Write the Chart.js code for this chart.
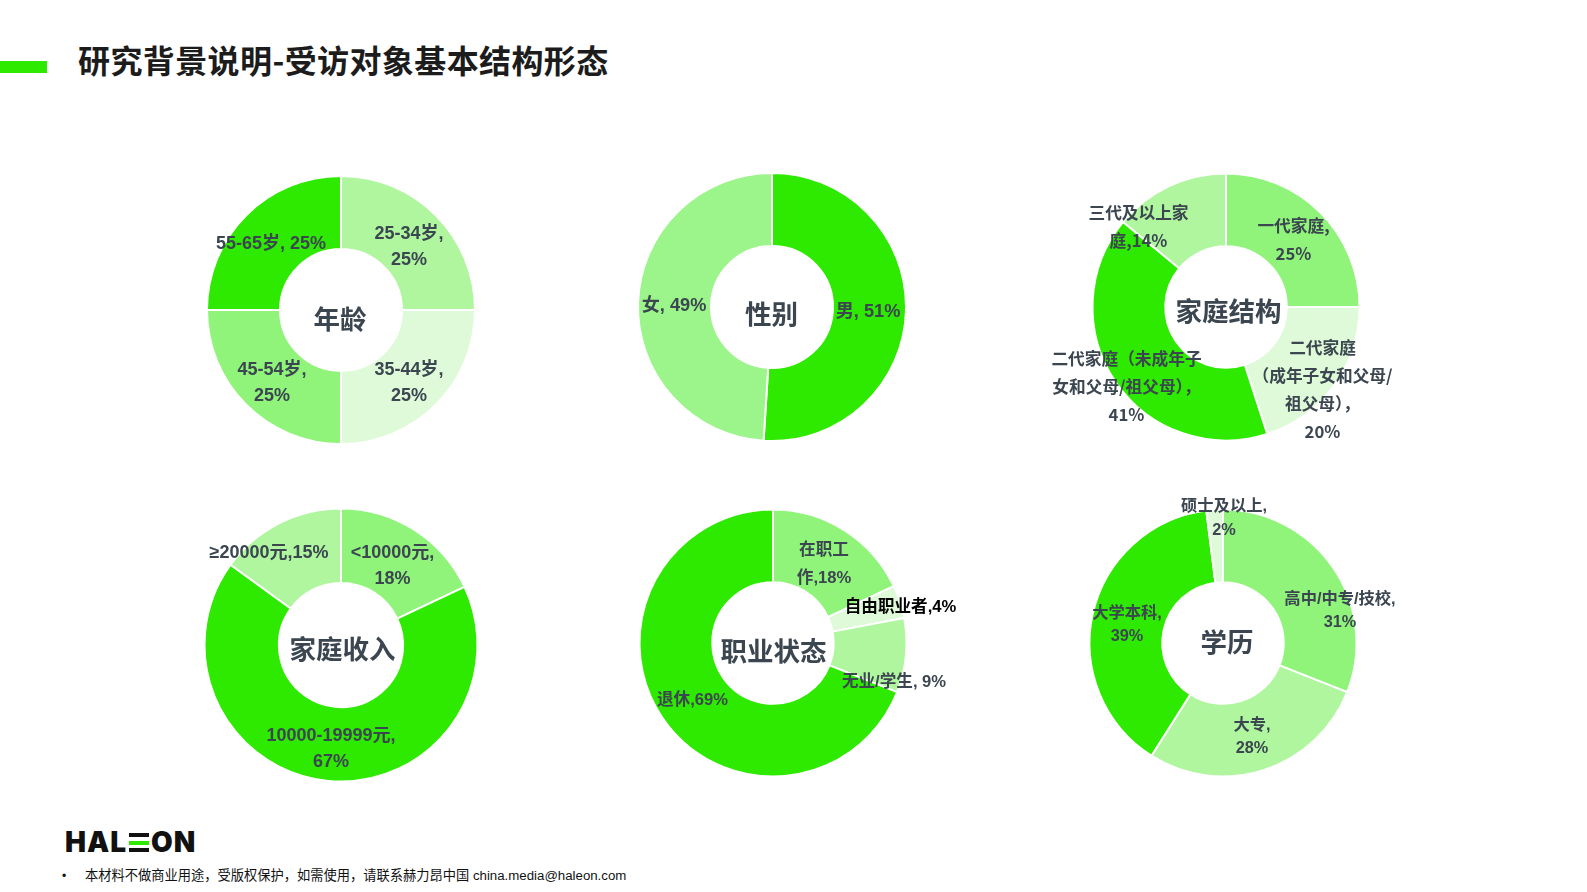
<!DOCTYPE html>
<html>
<head>
<meta charset="utf-8">
<script src="https://cdn.jsdelivr.net/npm/chart.js@4"></script>
<style>
  body { margin: 0; background: #fff; width: 1587px; height: 892px; overflow: hidden; position: relative; font-family: "Liberation Sans", "Noto Sans CJK SC", sans-serif; }
  canvas { position: absolute; }
  .bar { position: absolute; left: 0; top: 61px; width: 47px; height: 12px; background: #2ee900; }
  .title { position: absolute; left: 78px; top: 37px; font: bold 32px/44px "Noto Sans CJK SC", sans-serif; letter-spacing: 0.4px; color: #1c1c1c; white-space: nowrap; }
  .logo { position: absolute; left: 65px; top: 826px; font: 900 28px/32px "Inter", sans-serif; color: #111; white-space: nowrap; letter-spacing: 1px; }
  .logo i { display: inline-block; position: relative; width: 20px; height: 19px; margin: 0 2px; }
  .logo i b { position: absolute; left: 0; width: 20px; height: 4px; background: #111; }
  .foot { position: absolute; left: 85px; top: 867px; font-size: 13.25px; line-height: 18px; color: #111; white-space: nowrap; }
  .dot { position: absolute; left: 62px; top: 867px; font-size: 12px; line-height: 18px; color: #111; }
</style>
</head>
<body>
<div class="bar"></div>
<div class="title">研究背景说明-受访对象基本结构形态</div>
<div class="logo">HAL<i><b style="top:0"></b><b style="top:7.5px;background:#2ee900"></b><b style="top:15px"></b></i>ON</div>
<div class="dot">•</div>
<div class="foot">本材料不做商业用途，受版权保护，如需使用，请联系赫力昂中国 china.media@haleon.com</div>

<script>
const STRONG = '#2ee900', MID = '#90f47a', LIGHT = '#aff69f', PALE = '#dffad8', SOFT = '#9cf58a';

// values
const ageValues = [25, 25, 25, 25];
const ageText = [['25-34岁,', '25%'], ['35-44岁,', '25%'], ['45-54岁,', '25%'], ['55-65岁, 25%']];
const genderValues = [51, 49];
const genderText = [['男, 51%'], ['女, 49%']];
const familyValues = [25, 20, 41, 14];
const familyText = [
  ['一代家庭,', '25%'],
  ['二代家庭', '（成年子女和父母/', '祖父母），', '20%'],
  ['二代家庭（未成年子', '女和父母/祖父母），', '41%'],
  ['三代及以上家', '庭,14%']
];
const incomeValues = [18, 67, 15];
const incomeText = [['<10000元,', '18%'], ['10000-19999元,', '67%'], ['≥20000元,15%']];
const jobValues = [18, 4, 9, 69];
const jobText = [['在职工', '作,18%'], ['自由职业者,4%'], ['无业/学生, 9%'], ['退休,69%']];
const eduValues = [31, 28, 39, 2];
const eduText = [['高中/中专/技校,', '31%'], ['大专,', '28%'], ['大学本科,', '39%'], ['硕士及以上,', '2%']];

const W = 480, H = 340;
const latinFont = '"Liberation Sans", "Noto Sans CJK SC", sans-serif';
const cjkFont = '"Noto Sans CJK SC", sans-serif';

// where each label goes (page pixels: x centre, y of first line, line gap)
function makeDonut(o) {
  const c = document.createElement('canvas');
  c.width = W; c.height = H;
  c.style.left = (o.cx - W / 2) + 'px';
  c.style.top = (o.cy - H / 2) + 'px';
  document.body.appendChild(c);

  const labelPlugin = {
    id: 'sliceLabels',
    afterDatasetsDraw(chart) {
      const ctx = chart.ctx;
      ctx.save();
      ctx.textAlign = 'center';
      ctx.textBaseline = 'middle';
      o.text.forEach((lines, i) => {
        const p = o.pos[i];
        ctx.font = 'bold ' + o.size + 'px ' + o.font;
        ctx.fillStyle = (o.black === i) ? '#000' : '#3b4650';
        lines.forEach((t, n) => {
          ctx.fillText(t, p[0] - o.cx + W / 2, p[1] - o.cy + H / 2 + n * o.gap);
        });
      });
      ctx.font = 'bold 26.5px ' + cjkFont;
      ctx.fillStyle = '#3b4650';
      ctx.fillText(o.name, o.nameAt[0] - o.cx + W / 2, o.nameAt[1] - o.cy + H / 2);
      ctx.restore();
    }
  };

  new Chart(c, {
    type: 'doughnut',
    data: {
      labels: o.text.map(l => l.join('')),
      datasets: [{ data: o.values, backgroundColor: o.colors, borderColor: '#fff', borderWidth: 2 }]
    },
    options: {
      responsive: false,
      animation: false,
      cutout: '45.5%',
      layout: { padding: (H - 2 * o.r) / 2 },
      plugins: { legend: { display: false }, tooltip: { enabled: false } }
    },
    plugins: [labelPlugin]
  });
}

makeDonut({
  name: '年龄', nameAt: [340, 318], cx: 341, cy: 309.5, r: 135,
  values: ageValues, text: ageText, colors: [LIGHT, PALE, MID, STRONG],
  font: latinFont, size: 18, gap: 25.3,
  pos: [[409, 234], [409, 370], [272, 370], [271, 244]]
});
makeDonut({
  name: '性别', nameAt: [771.5, 313], cx: 772, cy: 306.5, r: 135,
  values: genderValues, text: genderText, colors: [STRONG, SOFT],
  font: latinFont, size: 18.2, gap: 25,
  pos: [[868, 311], [674, 305]]
});
makeDonut({
  name: '家庭结构', nameAt: [1228, 310], cx: 1225.5, cy: 306.5, r: 134.5,
  values: familyValues, text: familyText, colors: [MID, PALE, STRONG, LIGHT],
  font: cjkFont, size: 16.7, gap: 28,
  pos: [[1293, 225], [1322, 347], [1126, 358], [1138, 212]]
});
makeDonut({
  name: '家庭收入', nameAt: [342.5, 649], cx: 341, cy: 645, r: 137.5,
  values: incomeValues, text: incomeText, colors: [MID, STRONG, LIGHT],
  font: latinFont, size: 18, gap: 26.3,
  pos: [[392.5, 553], [331, 736], [269, 553]]
});
makeDonut({
  name: '职业状态', nameAt: [773, 650.5], cx: 772.5, cy: 642.5, r: 134.5,
  values: jobValues, text: jobText, colors: [MID, PALE, LIGHT, STRONG],
  font: latinFont, size: 16.6, gap: 28.3, black: 1,
  pos: [[823.5, 550], [900, 607], [893.5, 682], [692, 700]]
});
makeDonut({
  name: '学历', nameAt: [1227, 641.5], cx: 1223, cy: 642.5, r: 134.5,
  values: eduValues, text: eduText, colors: [MID, LIGHT, STRONG, PALE],
  font: latinFont, size: 16.3, gap: 23.3,
  pos: [[1340, 599], [1252, 725], [1127, 613], [1224, 506.5]]
});
</script>
</body>
</html>
